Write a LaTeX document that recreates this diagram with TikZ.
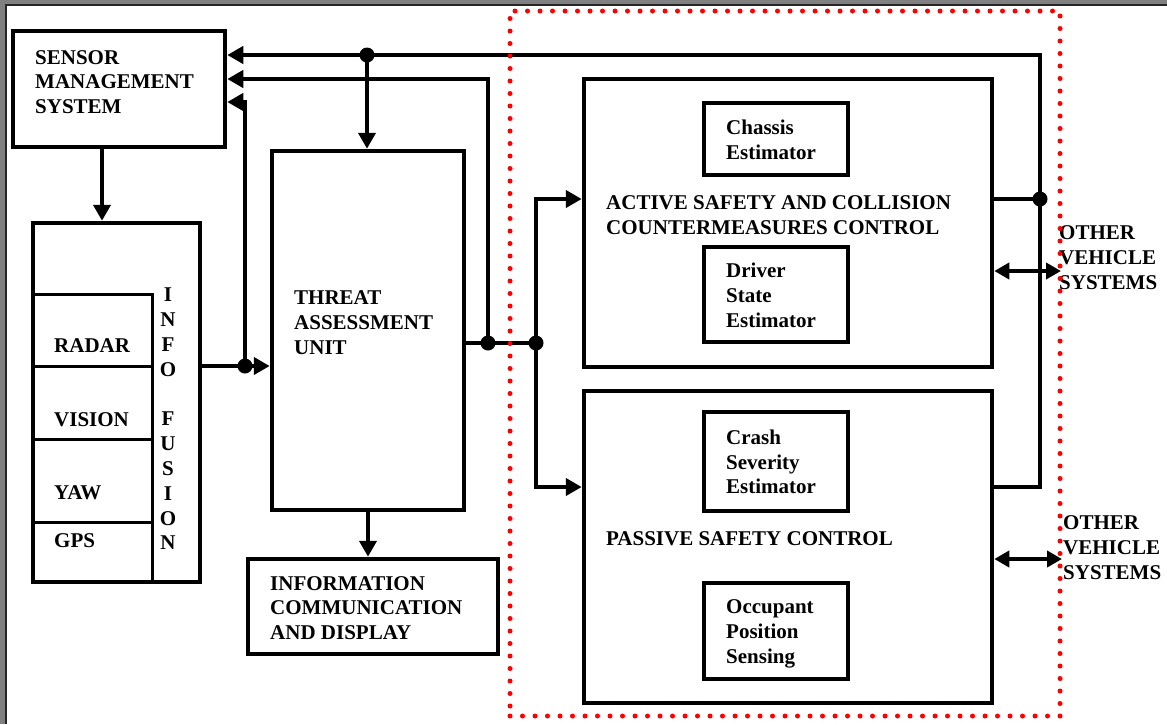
\documentclass[tikz,border=0pt]{standalone}
\usepackage{fontspec}
\setmainfont{Liberation Serif}
\usetikzlibrary{arrows.meta}
\pgfdeclarelayer{bglayer}
\pgfdeclarelayer{edgelayer}
\pgfdeclarelayer{nodelayer}
\pgfsetlayers{bglayer,edgelayer,nodelayer,main}
\definecolor{framegray}{rgb}{0.5,0.5,0.5}
\tikzstyle{block}=[rectangle, draw=black, line width=4.5pt, inner sep=0pt]
\tikzstyle{subblock}=[rectangle, draw=black, line width=4pt, inner sep=0pt]
\tikzstyle{txt}=[font=\bfseries\fontsize{21}{24.8}\selectfont, align=left, inner sep=0pt, anchor=west]
\tikzstyle{junction}=[circle, fill=black, inner sep=0pt, minimum size=15pt]
\tikzstyle{divider}=[draw=black, line width=3pt]
\tikzstyle{wire}=[draw=black, line width=4pt]
\tikzstyle{flow}=[wire, -{Triangle[length=16pt, width=17pt]}]
\tikzstyle{biflow}=[wire, {Triangle[length=15pt, width=16pt]}-{Triangle[length=15pt, width=16pt]}]
\tikzstyle{zone}=[rectangle, draw=red, line width=5pt, line cap=round, dash pattern=on 0pt off 12.5pt, inner sep=0pt]

\begin{document}
\begin{tikzpicture}[x=1pt, y=-1pt]
            \useasboundingbox (0,0) rectangle (1167,724);
            \begin{pgfonlayer}{bglayer}
                \fill [framegray] (0,0) rectangle (1167,724);
                \fill [white] (6,5) rectangle (1167,724);
                \draw [black!85, line width=1.5pt] (6,724) -- (6,5) -- (1167,5);
            \end{pgfonlayer}
            \begin{pgfonlayer}{nodelayer}
                \node [style=block, minimum width=212pt, minimum height=116pt] (sms) at (119,89) {};
                \node [style=txt] (smsText) at (35,82) {SENSOR\\MANAGEMENT\\SYSTEM};

                \node [style=block, minimum width=167pt, minimum height=359pt] (fusion) at (116.5,402.5) {};
                \coordinate (colTop) at (152,294);
                \node [style=txt] (radar) at (54,345.5) {RADAR};
                \node [style=txt] (vision) at (54,419.5) {VISION};
                \node [style=txt] (yaw) at (54,492.5) {YAW};
                \node [style=txt] (gps) at (54,541) {GPS};
                \node [style=txt, align=center, anchor=center] (fusionText) at (168,419) {I\\N\\F\\O\\\mbox{}\\F\\U\\S\\I\\O\\N};

                \node [style=block, minimum width=192pt, minimum height=359pt] (threat) at (368,330.5) {};
                \node [style=txt] (threatText) at (294,322.5) {THREAT\\ASSESSMENT\\UNIT};

                \node [style=block, minimum width=250pt, minimum height=95pt] (info) at (373,606.5) {};
                \node [style=txt] (infoText) at (270,608) {INFORMATION\\COMMUNICATION\\AND DISPLAY};

                \node [style=block, minimum width=408pt, minimum height=288pt] (active) at (788,223) {};
                \node [style=subblock, minimum width=144pt, minimum height=72pt] (chassis) at (776,139) {};
                \node [style=txt] (chassisText) at (726,139.5) {Chassis\\Estimator};
                \node [style=txt] (activeText) at (606,215) {ACTIVE SAFETY AND COLLISION\\COUNTERMEASURES CONTROL};
                \node [style=subblock, minimum width=144pt, minimum height=95pt] (driver) at (776,294.5) {};
                \node [style=txt] (driverText) at (726,295.5) {Driver\\State\\Estimator};

                \node [style=block, minimum width=408pt, minimum height=312pt] (passive) at (788,547) {};
                \node [style=subblock, minimum width=144pt, minimum height=99pt] (crash) at (776,461.5) {};
                \node [style=txt] (crashText) at (726,462) {Crash\\Severity\\Estimator};
                \node [style=txt] (passiveText) at (606,539) {PASSIVE SAFETY CONTROL};
                \node [style=subblock, minimum width=144pt, minimum height=96pt] (occupant) at (776,631) {};
                \node [style=txt] (occupantText) at (726,634) {Occupant\\Position\\Sensing};

                \node [style=txt] (other1) at (1059,257.5) {OTHER\\VEHICLE\\SYSTEMS};
                \node [style=txt] (other2) at (1063,547.5) {OTHER\\VEHICLE\\SYSTEMS};
                \coordinate (out1) at (1061,271);
                \coordinate (out2) at (1062,559);

                \node [style=junction] (d1) at (367,55) {};
                \node [style=junction] (d2) at (245,366) {};
                \node [style=junction] (d3) at (488,343) {};
                \node [style=junction] (d4) at (536,343) {};
                \node [style=junction] (d5) at (1040,199) {};
            \end{pgfonlayer}
            \begin{pgfonlayer}{edgelayer}
                \draw [style=divider] (fusion.west |- colTop) -| (colTop |- fusion.south);
                \draw [style=divider] (fusion.west |- 0,366) -- (colTop |- 0,366);
                \draw [style=divider] (fusion.west |- 0,439) -- (colTop |- 0,439);
                \draw [style=divider] (fusion.west |- 0,522) -- (colTop |- 0,522);

                \draw [style=flow] ([xshift=-17pt]sms.south) -- ([xshift=-14.5pt]fusion.north);
                \draw [style=wire] (fusion.east |- d2) -- (d2.center);
                \draw [style=flow] (d2.center) -- (threat.west |- d2);
                \draw [style=flow] (d2.center) |- ([yshift=-13pt]sms.east);
                \draw [style=flow] (d3.center) |- ([yshift=10pt]sms.east);
                \draw [style=flow] ([yshift=60pt]passive.east) -| (d5.center) |- ([yshift=34pt]sms.east);
                \draw [style=wire] ([yshift=24pt]active.east) -- (d5.center);
                \draw [style=flow] (d1.center) -- (d1 |- threat.north);
                \draw [style=wire] ([yshift=-12.5pt]threat.east) -- (d4.center);
                \draw [style=flow] (d4.center) |- ([yshift=24pt]active.west);
                \draw [style=flow] (d4.center) |- ([yshift=60pt]passive.west);
                \draw [style=flow] (threat.south) -- (threat.south |- info.north);
                \draw [style=biflow] ([yshift=-48pt]active.east) -- (out1);
                \draw [style=biflow] ([yshift=-12pt]passive.east) -- (out2);
            \end{pgfonlayer}
            \node [style=zone, minimum width=550pt, minimum height=705pt] (zone) at (785,363.5) {};
        \end{tikzpicture}
\end{document}
